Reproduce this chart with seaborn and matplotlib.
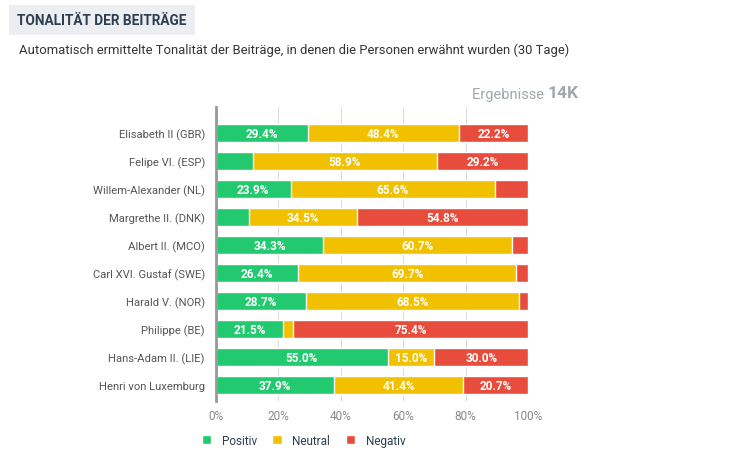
import matplotlib
matplotlib.use("Agg")
import matplotlib.pyplot as plt
import numpy as np
import pandas as pd
import seaborn as sns

personen = ["Elisabeth II (GBR)", "Felipe VI. (ESP)", "Willem-Alexander (NL)",
            "Margrethe II. (DNK)", "Albert II. (MCO)", "Carl XVI. Gustaf (SWE)",
            "Harald V. (NOR)", "Philippe (BE)", "Hans-Adam II. (LIE)",
            "Henri von Luxemburg"]
positiv = [29.4, 11.9, 23.9, 10.7, 34.3, 26.4, 28.7, 21.5, 55.0, 37.9]
neutral = [48.4, 58.9, 65.6, 34.5, 60.7, 69.7, 68.5, 3.1, 15.0, 41.4]
negativ = [22.2, 29.2, 10.5, 54.8, 5.0, 3.9, 2.8, 75.4, 30.0, 20.7]
x_ticks = [0, 20, 40, 60, 80, 100]

farben = {"Positiv": "#22c96e", "Neutral": "#f1c100", "Negativ": "#e84c3d"}

df = pd.DataFrame({"Person": personen, "Positiv": positiv,
                   "Neutral": neutral, "Negativ": negativ})

sns.set_style("white")
plt.rcParams["font.family"] = ["Roboto", "DejaVu Sans"]

fig = plt.figure(figsize=(7.35, 4.56), dpi=100)
ax = fig.add_axes([216 / 735, 1 - 402 / 456, 312 / 735, 294 / 456])

# gestapelte balken: kumulierte summen, von hinten nach vorne zeichnen
df["c_pos"] = df["Positiv"]
df["c_neu"] = df["Positiv"] + df["Neutral"]
df["c_neg"] = df["c_neu"] + df["Negativ"]
for spalte, name in [("c_neg", "Negativ"), ("c_neu", "Neutral"), ("c_pos", "Positiv")]:
    sns.barplot(data=df, x=spalte, y="Person", color=farben[name], width=0.64,
                orient="h", ax=ax, saturation=1, zorder=3, label=name)

# werte in die balken schreiben (nur wenn segment gross genug)
for i in range(len(personen)):
    links = 0
    for name in ["Positiv", "Neutral", "Negativ"]:
        w = df[name][i]
        if w >= 14:
            ax.text(links + w / 2, i, f"{w:.1f}%", ha="center", va="center",
                    color="white", fontsize=8.5, fontweight="bold",
                    family=["Liberation Sans Narrow", "Roboto"], zorder=4)
        links += w

ax.set_xlim(0, 100)
ax.set_ylim(9.57, -0.93)
ax.set_xticks(x_ticks)
ax.set_xticklabels([f"{t}%" for t in x_ticks], color="#888888", fontsize=8.5)
ax.tick_params(axis="y", labelsize=8.1, labelcolor="#555555", length=0, pad=8)
ax.tick_params(axis="x", length=0, pad=6)
ax.set_xlabel("")
ax.set_ylabel("")
ax.grid(axis="x", color="#dddddd", linewidth=0.8, zorder=0)
for s in ["top", "right", "bottom"]:
    ax.spines[s].set_visible(False)
ax.spines["left"].set_color("#999999")
ax.spines["left"].set_linewidth(2)
ax.spines["left"].set_zorder(5)

# legende
handles, labels = ax.get_legend_handles_labels()
order = [labels.index(n) for n in ["Positiv", "Neutral", "Negativ"]]
ax.legend([handles[k] for k in order], [labels[k] for k in order],
          loc="upper left", bbox_to_anchor=(-0.08, -0.075), ncol=3, frameon=False,
          fontsize=8.5, handlelength=0.8, handleheight=0.8, columnspacing=1.3,
          handletextpad=0.9, labelcolor="#2d3e50")

# titel und untertitel
fig.text(17 / 735, 1 - 21 / 456, "TONALITÄT DER BEITRÄGE", fontsize=9.8,
         fontweight="bold", color="#2d3e50", va="center", ha="left",
         bbox=dict(boxstyle="square,pad=0.6", fc="#eceef1", ec="none"))
fig.text(19 / 735, 1 - 50 / 456,
         "Automatisch ermittelte Tonalität der Beiträge, in denen die Personen erwähnt wurden (30 Tage)",
         fontsize=9.4, color="#333333", va="center", ha="left")
fig.text(548 / 735, 1 - 95 / 456, "Ergebnisse ", fontsize=10.5, color="#a0a8ab",
         va="center", ha="right")
fig.text(548 / 735, 1 - 94 / 456, "14K", fontsize=12.5, fontweight="bold",
         color="#a0a8ab", va="center", ha="left",
         family=["Liberation Sans Narrow", "Roboto"])

fig.savefig("out.png", dpi=100)
